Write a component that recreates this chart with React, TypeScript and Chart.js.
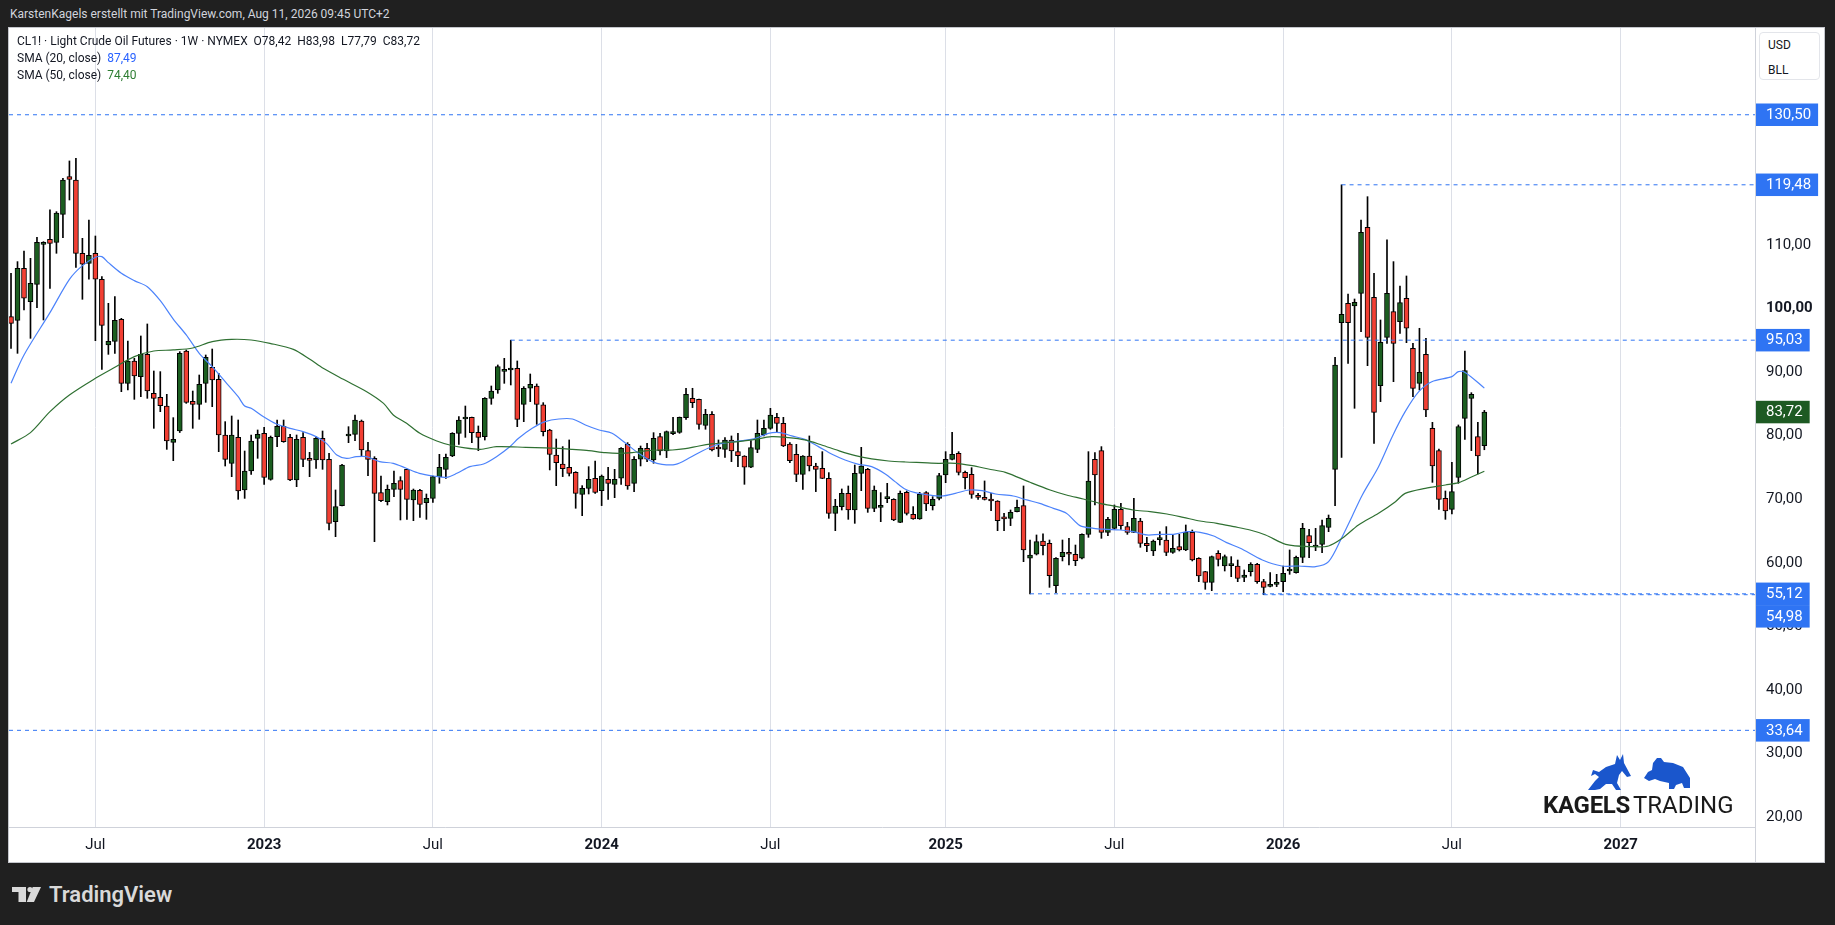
import React, { useEffect, useRef } from 'react';
import { Chart, registerables } from 'chart.js';

Chart.register(...registerables);

// Weekly candles, index 1 = week of 4 Apr 2022 ... index 228 = week of 10 Aug 2026
const OPEN = [
  98.73, 98.15, 106.34, 101.09, 103.82, 110.11, 110.9, 110.43, 114.83, 120.76,
  120.24, 108.7, 107.12, 108.7, 104.61, 94.27, 94.85, 98.31, 88.24, 91.75,
  89.29, 92.8, 86.67, 86.04, 84.67, 78.96, 80.74, 93.33, 85.41, 84.94,
  88.24, 90.76, 88.87, 80.11, 75.65, 79.74, 71.46, 74.45, 79.59, 80.37,
  73.14, 79.85, 81.47, 79.74, 73.03, 79.74, 76.23, 76.18, 79.59, 76.28,
  66.47, 68.99, 79.95, 80.22, 82.31, 77.65, 76.44, 71.04, 69.62, 71.56,
  72.92, 74.71, 69.88, 71.4, 69.46, 70.15, 73.55, 74.71, 76.81, 80.37,
  82.63, 82.89, 80.53, 79.85, 85.88, 87.19, 90.13, 90.34, 90.61, 84.94,
  87.46, 87.82, 84.84, 80.9, 76.97, 75.55, 75.03, 74.24, 70.78, 71.72,
  73.3, 71.35, 73.14, 72.35, 73.3, 78.65, 72.51, 76.29, 78.02, 76.18,
  79.85, 77.6, 80.32, 80.53, 82.84, 85.88, 85.73, 81.63, 83.37, 77.96,
  77.86, 79.33, 77.49, 76.81, 75.03, 77.86, 80.11, 81.16, 82.89, 81.95,
  78.7, 77.07, 73.92, 76.81, 75.23, 74.87, 73.29, 67.79, 68.84, 70.93,
  68.31, 74.08, 74.71, 68.57, 68.73, 70.09, 69.99, 66.37, 71.09, 67.63,
  66.89, 71.04, 68.99, 70.15, 73.82, 76.28, 77.23, 74.24, 73.92, 70.62,
  70.3, 69.78, 69.73, 66.95, 67.0, 68.05, 68.99, 60.71, 61.34, 63.43,
  63.07, 56.41, 60.97, 61.65, 61.34, 60.71, 64.48, 76.28, 77.65, 64.8,
  65.43, 68.42, 65.69, 64.8, 66.58, 63.07, 61.86, 63.64, 63.59, 61.65,
  62.54, 62.02, 64.8, 60.71, 58.61, 56.93, 61.49, 59.5, 59.55, 59.5,
  57.72, 58.61, 59.76, 57.03, 56.3, 56.61, 57.03, 58.71, 58.45, 60.86,
  64.27, 62.49, 62.91, 65.58, 74.71, 97.79, 100.83, 100.41, 102.4, 112.79,
  101.77, 87.87, 95.48, 99.52, 97.94, 101.62, 93.75, 88.24, 92.8, 81.16,
  77.65, 70.15, 68.41, 73.45, 82.73, 85.88, 79.85, 78.42,
];
const HIGH = [
  105.55, 107.39, 109.06, 107.91, 111.21, 110.53, 115.52, 115.25, 120.5, 123.23,
  123.65, 111.06, 113.94, 111.42, 105.02, 100.83, 101.88, 98.47, 94.9, 92.17,
  95.69, 97.58, 90.18, 90.08, 86.51, 82.84, 93.22, 93.49, 87.03, 89.55,
  92.7, 93.64, 89.81, 82.21, 83.1, 82.47, 77.59, 80.11, 80.9, 81.32,
  79.95, 82.47, 82.47, 80.22, 80.11, 80.48, 77.38, 79.85, 80.74, 77.23,
  71.46, 75.49, 81.42, 83.26, 82.47, 78.96, 76.7, 73.66, 72.24, 74.45,
  73.55, 74.76, 71.61, 71.56, 70.83, 73.66, 77.07, 77.12, 80.48, 82.99,
  84.67, 82.94, 81.53, 85.99, 87.82, 91.13, 92.17, 95.03, 91.76, 87.72,
  89.71, 88.14, 85.2, 81.01, 79.48, 78.28, 79.33, 74.34, 72.14, 75.13,
  76.02, 73.82, 75.03, 74.71, 78.12, 78.91, 76.71, 78.38, 78.8, 80.48,
  80.38, 80.74, 82.89, 82.94, 87.46, 87.46, 85.78, 84.15, 83.79, 79.33,
  79.69, 79.96, 80.38, 76.86, 79.22, 82.47, 82.47, 84.31, 83.52, 82.89,
  78.91, 78.64, 76.86, 79.96, 75.66, 77.49, 74.19, 69.99, 71.62, 72.09,
  75.39, 78.17, 74.87, 72.09, 71.04, 72.51, 70.09, 71.3, 71.3, 68.84,
  71.09, 71.2, 70.41, 74.08, 77.49, 80.53, 77.49, 74.45, 74.97, 70.93,
  72.88, 70.93, 69.78, 67.79, 68.31, 69.88, 72.09, 63.59, 64.38, 64.54,
  63.59, 60.81, 63.59, 63.85, 62.8, 64.54, 77.49, 77.33, 78.28, 67.16,
  69.1, 69.36, 66.37, 70.15, 67.0, 64.01, 63.59, 64.9, 65.69, 64.48,
  64.48, 65.95, 65.16, 60.81, 58.66, 61.07, 61.91, 61.23, 60.97, 60.44,
  58.87, 60.02, 59.92, 57.4, 58.45, 58.19, 59.5, 62.02, 61.07, 66.21,
  65.27, 65.42, 66.74, 67.52, 92.33, 119.48, 102.3, 101.51, 113.94, 117.61,
  105.55, 98.21, 110.8, 107.39, 103.56, 105.13, 94.53, 96.9, 95.32, 82.1,
  77.91, 71.3, 75.81, 81.69, 93.33, 86.77, 82.1, 83.98,
];
const LOW = [
  93.75, 92.96, 99.78, 95.32, 100.15, 98.21, 103.19, 108.7, 111.16, 117.09,
  106.49, 101.46, 104.61, 94.95, 90.44, 92.8, 92.96, 86.93, 87.19, 85.72,
  86.14, 85.88, 81.16, 83.78, 77.85, 76.07, 80.5, 85.09, 81.16, 82.58,
  85.25, 84.57, 77.49, 75.23, 73.55, 69.99, 70.14, 73.92, 76.44, 72.35,
  73.0, 78.27, 78.96, 72.92, 71.98, 75.13, 73.55, 74.87, 74.71, 65.16,
  64.11, 68.94, 78.9, 79.22, 76.7, 73.71, 63.33, 69.62, 69.1, 70.41,
  66.74, 66.84, 66.63, 67.16, 66.84, 69.52, 72.51, 73.29, 76.7, 78.64,
  79.74, 78.9, 77.65, 79.32, 84.94, 86.67, 88.24, 87.98, 81.42, 82.21,
  85.36, 81.79, 79.96, 74.61, 72.14, 73.56, 73.66, 68.58, 67.42, 70.83,
  70.93, 69.0, 69.99, 70.25, 72.35, 71.56, 71.2, 75.24, 75.92, 75.66,
  76.97, 76.55, 80.17, 80.38, 82.58, 84.42, 81.01, 81.01, 77.6, 76.71,
  76.6, 75.92, 75.13, 72.35, 74.97, 77.33, 79.96, 81.0, 80.64, 78.28,
  75.76, 72.77, 71.56, 74.45, 71.2, 73.24, 67.0, 65.06, 68.31, 66.84,
  66.21, 71.35, 67.94, 68.05, 66.47, 69.46, 66.63, 66.32, 67.52, 66.84,
  66.84, 68.21, 68.31, 69.88, 72.61, 76.18, 73.82, 71.62, 70.15, 69.99,
  69.88, 68.21, 65.06, 65.06, 65.85, 68.0, 60.18, 55.12, 61.23, 61.23,
  56.14, 55.3, 60.29, 59.66, 59.55, 60.6, 64.01, 69.1, 63.85, 64.27,
  65.27, 65.27, 64.48, 64.74, 62.44, 61.76, 61.13, 62.8, 61.13, 61.49,
  61.86, 61.91, 60.29, 57.03, 55.83, 55.62, 59.5, 58.71, 57.82, 57.03,
  57.03, 57.92, 56.77, 54.98, 56.19, 56.25, 55.46, 58.19, 58.35, 60.02,
  60.81, 61.91, 61.6, 64.9, 68.99, 76.6, 91.39, 84.31, 96.37, 91.02,
  78.8, 85.36, 94.53, 88.5, 96.11, 94.64, 86.14, 87.19, 83.0, 72.66,
  68.41, 66.84, 67.68, 72.51, 79.43, 77.65, 73.97, 77.79,
];
const CLOSE = [
  97.68, 106.34, 101.62, 103.98, 110.43, 110.27, 110.27, 115.04, 120.24, 120.34,
  108.7, 106.97, 108.38, 104.61, 97.37, 94.85, 98.15, 88.24, 91.75, 89.39,
  92.8, 87.03, 85.88, 84.73, 79.17, 79.43, 92.96, 85.25, 84.94, 88.08,
  92.33, 88.76, 80.11, 76.28, 80.11, 71.3, 74.45, 79.17, 80.22, 73.45,
  79.74, 81.47, 79.06, 73.03, 79.43, 76.28, 76.12, 79.59, 76.18, 66.21,
  68.83, 75.39, 80.16, 82.47, 77.75, 76.28, 70.93, 69.78, 71.56, 72.51,
  71.56, 69.99, 71.46, 69.2, 70.15, 73.55, 75.02, 76.6, 80.37, 82.47,
  82.73, 80.48, 79.74, 85.88, 87.03, 90.86, 90.18, 90.6, 82.58, 87.46,
  88.09, 84.94, 80.64, 77.07, 75.76, 74.82, 74.08, 70.93, 71.72, 73.14,
  71.09, 73.66, 72.51, 73.14, 78.02, 72.09, 76.29, 78.02, 76.29, 79.59,
  77.6, 80.64, 80.43, 82.89, 86.51, 85.2, 81.79, 83.37, 77.75, 77.91,
  79.33, 77.6, 76.86, 75.03, 78.12, 80.38, 81.16, 83.26, 81.95, 78.38,
  76.07, 73.92, 76.81, 75.23, 74.71, 73.29, 67.79, 68.94, 70.93, 68.31,
  74.08, 75.23, 68.57, 71.46, 69.05, 70.2, 66.74, 70.93, 67.79, 66.89,
  70.78, 69.25, 69.99, 73.71, 76.28, 77.07, 74.24, 73.4, 70.78, 70.3,
  69.99, 69.73, 66.63, 66.9, 67.94, 68.73, 62.02, 61.23, 63.33, 62.7,
  57.98, 60.71, 61.65, 61.34, 60.34, 64.48, 72.87, 73.82, 64.8, 66.84,
  68.42, 65.85, 64.8, 67.0, 63.07, 62.7, 63.43, 63.75, 61.65, 62.28,
  62.02, 64.8, 60.44, 57.93, 56.93, 60.97, 60.55, 60.97, 59.6, 57.56,
  58.08, 59.76, 57.03, 56.14, 56.61, 56.93, 58.35, 58.87, 60.86, 65.42,
  63.17, 62.59, 65.84, 67.0, 91.13, 99.1, 97.79, 100.99, 112.0, 95.48,
  83.68, 94.69, 102.4, 94.53, 100.93, 96.9, 87.45, 89.97, 84.05, 75.23,
  69.99, 68.15, 71.19, 81.42, 90.23, 86.51, 76.81, 83.72,
];

// SMA readings (week index, value)
const SMA20_X = [
  1, 3, 7, 10, 12, 14, 15, 16, 18, 20, 22, 24, 26, 28, 30, 32, 34, 36, 37, 38,
  39.9, 41.9, 44, 46, 48, 49.6, 51.2, 52.7, 54.2, 55.8, 57.8, 59.9, 61.9, 63.9, 66.1, 68.1, 69.7, 71.7, 73.8, 75.8, 77.9,
  79.2, 81.3, 83.3, 85.4, 87.5, 89.5, 91.6, 93.6, 95.7, 97.7, 99.8, 101.3, 103.4, 105.4, 107.5, 109.6, 111.6, 113.7, 115.7,
  117.7, 119.5, 121.3, 123.3, 125.4, 127.5, 129.5, 131.6, 133.6, 135.7, 137.2, 138.8, 140.3, 142.4, 144.4, 146.5, 148.6, 150.6, 152.7,
  155.4, 157.5, 159.5, 161.6, 163.6, 165.7, 167.8, 169.8, 171.9, 173.9, 176, 178, 180.1, 182.2, 184.2, 186.3, 188.3, 190.4,
  193.8, 196.8, 199.4, 202, 204, 206.1, 207.6, 209.2, 211.7, 213.8, 215.8, 217.9, 219.9, 223, 224, 225.1, 228,
];
const SMA20_Y = [
  88.24, 92.7, 99.36, 104.6, 106.76, 108.07, 108.17, 107.23, 105.55, 104.4, 103.45, 101.25, 98.36, 95.85, 92.96, 90.86, 88.5, 86.14, 84.67, 84.31,
  82.99, 81.84, 81.16, 80.64, 79.85, 78.8, 76.96, 76.44, 76.7, 76.7, 75.91, 75.65, 74.87, 74.08, 73.66, 73.45, 74.08, 75.13, 75.55, 76.7, 78.3,
  79.59, 81.16, 82.21, 82.63, 82.63, 81.69, 80.9, 80.38, 78.8, 77.23, 75.92, 75.5, 75.5, 76.44, 77.6, 78.54, 78.96, 79.22, 79.59,
  80.37, 80.48, 79.96, 79.43, 78.28, 77.07, 76.18, 75.5, 75.13, 73.98, 72.77, 71.56, 71.04, 70.67, 70.51, 70.93, 71.46, 71.35, 70.83,
  70.51, 69.89, 69.36, 68.57, 67.79, 65.85, 65.43, 65.27, 65.16, 64.9, 64.38, 64.48, 64.48, 64.9, 64.8, 64.22, 63.17, 62.28,
  60.44, 59.5, 59.5, 59.39, 60.18, 64.11, 67.26, 70.67, 75.13, 79.85, 83.78, 86.93, 88.5, 89.29, 90.08, 89.92, 87.49,
];
const SMA50_X = [
  1, 4, 7, 10, 14, 17, 20, 23, 26, 29, 32, 35, 38,
  40.9, 44.5, 47.05, 49.1, 52.2, 55.8, 58.4, 59.9, 61.95, 64, 66.6, 68.6, 70.7, 73.3, 75.8,
  80.3, 83.3, 85.4, 87.5, 90, 92.6, 94.6, 96.7, 98.8, 100.8, 102.9, 104.9, 107, 109, 111.1, 113.1, 115.2,
  118.2, 120.8, 123.3, 125.9, 128.5, 131.1, 133.6, 136.2, 138.8, 141.4, 143.9, 146.5, 149.1, 151.6, 154.2,
  158, 161.1, 163.6, 166.2, 168.8, 171.4, 173.9, 176.5, 179.1, 181.6, 184.2, 186.8, 189.4, 191.9,
  194.3, 197.4, 201.5, 204, 206.1, 208.6, 211.7, 214.3, 215.8, 218.9, 222, 224, 226.1, 228,
];
const SMA50_Y = [
  78.69, 80.48, 83.78, 86.41, 89.03, 90.76, 92.44, 93.33, 93.49, 93.8, 94.8, 95.16, 95.06,
  94.53, 93.59, 92.02, 90.6, 88.87, 86.93, 85.09, 83.26, 81.95, 80.37, 79.17, 78.54, 78.12, 77.86, 78.27,
  78.17, 78.07, 78.02, 77.86, 77.65, 77.33, 77.23, 77.33, 77.6, 77.75, 77.75, 77.96, 78.38, 78.7, 78.91, 79.07, 79.33,
  79.85, 79.69, 79.33, 78.54, 77.65, 76.86, 76.34, 76.02, 75.86, 75.76, 75.66, 75.66, 75.29, 74.76, 74.24,
  72.67, 71.46, 70.67, 70.04, 69.36, 68.84, 68.31, 68.05, 67.68, 67.16, 66.58, 66.21, 65.69, 65.16,
  64.38, 62.91, 62.54, 62.65, 63.85, 65.95, 67.79, 69.62, 70.93, 71.72, 72.24, 72.61, 73.55, 74.4,
];

const X_TICK_INDEX = [14, 40, 66, 92, 118, 145, 171, 197, 223, 249];
const X_TICK_LABELS = ['Jul', '2023', 'Jul', '2024', 'Jul', '2025', 'Jul', '2026', 'Jul', '2027'];
const Y_TICKS = [20, 30, 40, 50, 60, 70, 80, 90, 100, 110, 120, 130, 140];

const LEVEL_VALUES = [130.5, 119.48, 95.03, 55.12, 54.98, 33.64];
const LEVEL_FROM: (number | null)[] = [null, 206, 78, 158, 194, null];
const LAST_CLOSE = 83.72;

const X_MIN = 0.69;
const X_MAX = 269.7;
const Y_MIN = 18.43;
const Y_MAX = 144.15;

const FONT = 'Roboto, "Noto Sans", sans-serif';
const UP = '#1b5e20';
const DOWN = '#f23f33';
const LEVEL_BLUE = '#2f74f3';
const LAST_GREEN = '#1e5a23';
const DARK = '#202020';

const fmt = (v: number) => v.toFixed(2).replace('.', ',');

const priceLabels = {
  id: 'priceLabels',
  afterDraw(chart: any) {
    const { ctx, chartArea, scales } = chart;
    const y = scales.y;
    const h = 22.5;
    const items = LEVEL_VALUES.map((v) => ({ v, color: LEVEL_BLUE, py: y.getPixelForValue(v) }));
    items.push({ v: LAST_CLOSE, color: LAST_GREEN, py: y.getPixelForValue(LAST_CLOSE) });
    items.sort((a, b) => a.py - b.py);
    let prevBottom = -Infinity;
    ctx.save();
    // axis line continues through the time-axis strip
    ctx.strokeStyle = '#cfd2da';
    ctx.lineWidth = 1;
    ctx.beginPath();
    ctx.moveTo(chartArea.right + 0.5, chartArea.bottom);
    ctx.lineTo(chartArea.right + 0.5, chart.height);
    ctx.stroke();
    ctx.font = `15px ${FONT}`;
    ctx.textBaseline = 'middle';
    ctx.textAlign = 'left';
    for (const it of items) {
      let top = it.py - h / 2;
      if (top < prevBottom) top = prevBottom;
      prevBottom = top + h;
      const text = fmt(it.v);
      const w = ctx.measureText(text).width + 17;
      ctx.fillStyle = it.color;
      ctx.fillRect(chartArea.right + 1, top, w, h);
      ctx.fillStyle = '#ffffff';
      ctx.fillText(text, chartArea.right + 11, top + h / 2 + 0.5);
    }
    ctx.restore();
  },
};

function App() {
  const ref = useRef<HTMLCanvasElement | null>(null);

  useEffect(() => {
    document.body.style.margin = '0';
    document.body.style.background = DARK;
    const canvas = ref.current;
    if (!canvas) return;
    const idx = OPEN.map((_, i) => i + 1);
    const levelSets = LEVEL_VALUES.map((v, i) => ({
      type: 'line' as const,
      data: [
        { x: LEVEL_FROM[i] ?? X_MIN, y: v },
        { x: X_MAX, y: v },
      ],
      borderColor: LEVEL_BLUE,
      borderWidth: 1,
      borderDash: [4, 4],
      pointRadius: 0,
      order: 0,
    }));
    const chart = new Chart(canvas, {
      type: 'bar',
      data: {
        datasets: [
          {
            type: 'bar',
            data: idx.map((x, i) => ({ x, y: [LOW[i], HIGH[i]] })) as any,
            backgroundColor: '#000000',
            barThickness: 1,
            grouped: false,
            order: 3,
          },
          {
            type: 'bar',
            data: idx.map((x, i) => ({ x, y: [OPEN[i], CLOSE[i]] })) as any,
            backgroundColor: idx.map((_, i) => (CLOSE[i] >= OPEN[i] ? UP : DOWN)),
            borderColor: '#000000',
            borderWidth: 1,
            borderSkipped: false,
            barThickness: 5,
            minBarLength: 2,
            grouped: false,
            order: 2,
          },
          {
            type: 'line',
            data: SMA50_X.map((x, i) => ({ x, y: SMA50_Y[i] })),
            borderColor: '#2f7032',
            borderWidth: 1.2,
            pointRadius: 0,
            tension: 0.3,
            order: 1,
          },
          {
            type: 'line',
            data: SMA20_X.map((x, i) => ({ x, y: SMA20_Y[i] })),
            borderColor: '#4c83fb',
            borderWidth: 1.2,
            pointRadius: 0,
            tension: 0.3,
            order: 1,
          },
          ...levelSets,
        ] as any,
      },
      options: {
        animation: false,
        responsive: false,
        devicePixelRatio: 1,
        layout: { padding: 0, autoPadding: false },
        plugins: { legend: { display: false }, tooltip: { enabled: false } },
        scales: {
          x: {
            type: 'linear',
            min: X_MIN,
            max: X_MAX,
            offset: false,
            grid: { color: '#dcdfe7', drawTicks: false, offset: false },
            border: { color: '#cfd2da' },
            afterBuildTicks: (s: any) => {
              s.ticks = X_TICK_INDEX.map((v) => ({ value: v }));
            },
            afterFit: (s: any) => {
              s.height = 35;
              s.paddingLeft = 0;
              s.paddingRight = 0;
            },
            ticks: {
              autoSkip: false,
              maxRotation: 0,
              padding: 9,
              color: '#131722',
              font: (c: any) => ({
                family: FONT,
                size: 15,
                weight: X_TICK_LABELS[c.index] && X_TICK_LABELS[c.index] !== 'Jul' ? 'bold' : 'normal',
              }),
              callback: (_v: any, i: number) => X_TICK_LABELS[i],
            },
          },
          y: {
            type: 'linear',
            position: 'right',
            min: Y_MIN,
            max: Y_MAX,
            grid: { display: false, drawTicks: false },
            border: { color: '#cfd2da' },
            afterBuildTicks: (s: any) => {
              s.ticks = Y_TICKS.map((v) => ({ value: v }));
            },
            afterFit: (s: any) => {
              s.width = 69;
              s.paddingTop = 0;
              s.paddingBottom = 0;
            },
            ticks: {
              padding: 11,
              color: '#131722',
              font: (c: any) => ({
                family: FONT,
                size: 15,
                weight: c.tick && c.tick.value === 100 ? 'bold' : 'normal',
              }),
              callback: (v: any) => fmt(Number(v)),
            },
          },
        },
      } as any,
      plugins: [priceLabels],
    });
    return () => chart.destroy();
  }, []);

  const text = { position: 'absolute' as const, whiteSpace: 'pre' as const, fontFamily: FONT, lineHeight: 1 };

  return (
    <div style={{ position: 'absolute', left: 0, top: 0, width: 1835, height: 925, background: DARK, overflow: 'hidden' }}>
      <div style={{ ...text, left: 10, top: 8, fontSize: 12, color: '#d1d4dc' }}>
        KarstenKagels erstellt mit TradingView.com, Aug 11, 2026 09:45 UTC+2
      </div>
      <div
        style={{
          position: 'absolute',
          left: 8,
          top: 27,
          width: 1817,
          height: 836,
          boxSizing: 'border-box',
          border: '1px solid #c4c6cc',
          background: '#ffffff',
        }}
      />
      <canvas
        ref={ref}
        width={1815}
        height={834}
        style={{ position: 'absolute', left: 9, top: 28, width: 1815, height: 834 }}
      />
      <div style={{ ...text, left: 17, top: 35, fontSize: 12, color: '#131722' }}>
        {'CL1! · Light Crude Oil Futures · 1W · NYMEX  O78,42  H83,98  L77,79  C83,72'}
      </div>
      <div style={{ ...text, left: 17, top: 52, fontSize: 12, color: '#131722' }}>
        {'SMA (20, close)  '}
        <span style={{ color: '#2962ff' }}>87,49</span>
      </div>
      <div style={{ ...text, left: 17, top: 69, fontSize: 12, color: '#131722' }}>
        {'SMA (50, close)  '}
        <span style={{ color: '#2e7d32' }}>74,40</span>
      </div>
      <div
        style={{
          position: 'absolute',
          left: 1759,
          top: 32,
          width: 61,
          height: 48,
          boxSizing: 'border-box',
          border: '1px solid #e3e5ea',
          borderRadius: 4,
          background: '#ffffff',
        }}
      >
        <div style={{ ...text, left: 8, top: 6, fontSize: 12, color: '#131722' }}>USD</div>
        <div style={{ ...text, left: 8, top: 31, fontSize: 12, color: '#131722' }}>BLL</div>
      </div>
      <svg style={{ position: 'absolute', left: 1586, top: 750 }} width={110} height={42} viewBox="0 0 110 42">
        <path
          d="M2,40 L9,31 L13,27 L9,24 L5,26 L7,20 L13,22 L20,17 L29,14 L31,5 L34,10 L37,4 L38,13 L45,26 L41,27 L36,21 L33,25 L31,33 L35,40 L30,40 L26,34 L20,34 L14,39 L9,40 Z"
          fill="#1a56cc"
        />
        <path
          d="M58,28 L62,22 L66,20 L67,13 L71,8 L75,8 L78,12 L87,13 L97,17 L104,28 L104,38 L98,38 L96,33 L90,35 L88,39 L83,39 L83,33 L74,31 L69,29 L63,31 Z"
          fill="#1a56cc"
        />
      </svg>
      <div style={{ ...text, left: 1543, top: 793, fontSize: 24, color: '#1a1a1a', fontFamily: 'Roboto, sans-serif' }}>
        <span style={{ fontWeight: 'bold', letterSpacing: -0.3 }}>KAGELS</span>
        <span style={{ marginLeft: 3 }}>TRADING</span>
      </div>
      <svg style={{ position: 'absolute', left: 10, top: 885 }} width={34} height={19} viewBox="0 0 34 19">
        <rect x={2} y={2} width={14} height={5} fill="#d9d9d9" />
        <rect x={8.5} y={2} width={7.5} height={15} fill="#d9d9d9" />
        <circle cx={20} cy={4.5} r={2.6} fill="#d9d9d9" />
        <polygon points="22.7,2 31,2 24,17 16.7,17" fill="#d9d9d9" />
      </svg>
      <div style={{ ...text, left: 49, top: 884, fontSize: 22, fontWeight: 600, color: '#d9d9d9' }}>TradingView</div>
    </div>
  );
}

export default App;
